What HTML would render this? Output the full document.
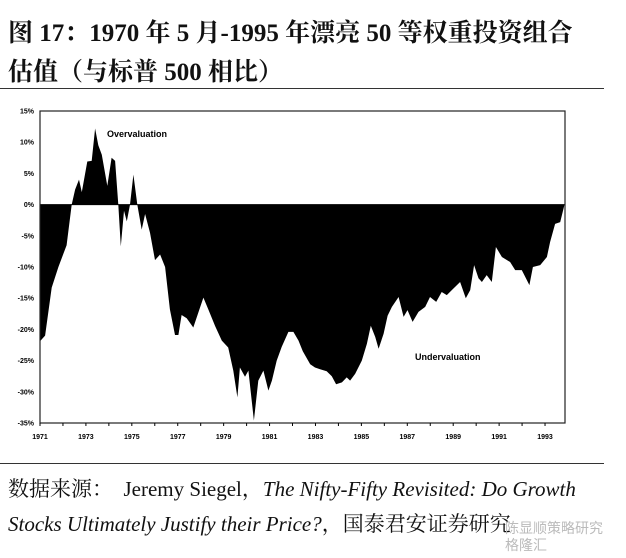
<!DOCTYPE html>
<html><head><meta charset="utf-8">
<style>
body{margin:0;background:#fff;width:626px;height:558px;overflow:hidden;position:relative;font-family:"Liberation Serif","Noto Serif CJK SC",serif}
.t{position:absolute;left:8px;font-weight:bold;font-size:25px;color:#111;white-space:nowrap}
.s{position:absolute;left:8px;font-size:21px;color:#111;white-space:nowrap}
.hr{position:absolute;left:0;width:604px;height:1px;background:#333}
</style></head><body>
<div class="t" style="top:13px">图 17：1970 年 5 月-1995 年漂亮 50 等权重投资组合</div>
<div class="t" style="top:52px">估值（与标普 500 相比）</div>
<div class="hr" style="top:88px"></div>
<svg id="chart" width="626" height="558" style="position:absolute;left:0;top:0"></svg>
<div class="hr" style="top:463px"></div>
<div class="s" style="top:473px">数据来源：&nbsp; Jeremy Siegel，<i>The Nifty-Fifty Revisited: Do Growth</i></div>
<div class="s" style="top:508px"><i>Stocks Ultimately Justify their Price?</i>，国泰君安证券研究</div>
<div style="position:absolute;left:505px;top:520px;font-size:14px;line-height:17px;color:#bbb;font-family:'Liberation Sans','Noto Sans CJK SC',sans-serif">陈显顺策略研究<br>格隆汇</div>
<script>
const years=[1971.0,1971.22,1971.51,1971.8,1972.16,1972.38,1972.53,1972.7,1972.82,1973.06,1973.25,1973.4,1973.54,1973.69,1973.93,1974.12,1974.27,1974.41,1974.52,1974.66,1974.78,1974.92,1975.07,1975.24,1975.43,1975.58,1975.79,1976.01,1976.23,1976.45,1976.66,1976.88,1977.03,1977.17,1977.39,1977.68,1977.97,1978.12,1978.33,1978.63,1978.92,1979.2,1979.42,1979.6,1979.71,1979.93,1980.08,1980.32,1980.51,1980.73,1980.95,1981.1,1981.31,1981.53,1981.82,1982.04,1982.26,1982.45,1982.77,1982.98,1983.2,1983.49,1983.71,1983.9,1984.15,1984.36,1984.51,1984.73,1985.02,1985.24,1985.41,1985.6,1985.75,1985.97,1986.14,1986.33,1986.62,1986.84,1987.01,1987.23,1987.49,1987.78,1987.99,1988.26,1988.5,1988.72,1988.94,1989.3,1989.55,1989.74,1989.91,1990.1,1990.25,1990.46,1990.68,1990.86,1991.12,1991.48,1991.7,1991.99,1992.32,1992.47,1992.79,1993.08,1993.22,1993.44,1993.66,1993.85];
const values=[-21.9,-21,-13.3,-10,-6.5,0,2.4,4,2,6.9,7,12.2,9.5,8,3,7.5,7,0,-6.7,-1,-2.7,0,4.8,0,-4,-1.5,-4.5,-8.9,-8,-10,-16.8,-20.9,-20.9,-17.7,-18.2,-19.7,-16.5,-14.9,-16.8,-19.5,-21.8,-22.9,-26.6,-30.9,-26.1,-27.6,-26.6,-34.6,-28.2,-26.6,-29.8,-28.2,-25,-22.8,-20.4,-20.4,-21.8,-23.5,-25.6,-26.1,-26.4,-26.7,-27.5,-28.8,-28.5,-27.7,-28.2,-27.1,-25,-22.3,-19.4,-21.2,-23.1,-20.7,-17.8,-16.4,-14.8,-18,-16.9,-18.8,-17.2,-16.4,-14.8,-15.6,-14,-14.5,-13.7,-12.4,-15,-13.7,-9.7,-11.8,-12.4,-11.3,-12.4,-6.8,-8.4,-9.2,-10.5,-10.5,-12.9,-10,-9.7,-8.4,-6,-3.1,-2.8,0];
const yTicks=[15,10,5,0,-5,-10,-15,-20,-25,-30,-35];
const xTickLabels=[1971,1973,1975,1977,1979,1981,1983,1985,1987,1989,1991,1993];
const X0=40,X1=565,Y0=111,Y1=423,YMIN=1971,YMAX=1993.87;
const sx=y=>X0+(y-YMIN)/(YMAX-YMIN)*(X1-X0);
const sy=v=>Y0+(15-v)/50*(Y1-Y0);
const svg=document.getElementById('chart');const NS='http://www.w3.org/2000/svg';
function mk(t,a){const e=document.createElementNS(NS,t);for(const k in a)e.setAttribute(k,a[k]);svg.appendChild(e);return e;}
let d='M'+sx(years[0])+','+sy(0);
years.forEach((y,i)=>{d+=' L'+sx(y).toFixed(1)+','+sy(values[i]).toFixed(1);});
d+=' L'+sx(years[years.length-1])+','+sy(0)+' Z';
const area=mk('path',{d:d,fill:'#000'});


const zl=mk('line',{x1:X0,x2:X1,y1:sy(0),y2:sy(0),stroke:'#000','stroke-width':1});


const fr=mk('rect',{x:X0,y:Y0,width:X1-X0,height:Y1-Y0,fill:'none',stroke:'#222','stroke-width':1.2});


yTicks.forEach(v=>{const t=mk('text',{x:X0-6,y:sy(v)+2.5,'text-anchor':'end','font-size':7,'font-weight':'bold','font-family':'Liberation Sans,sans-serif'});t.textContent=v+'%';

});
for(let y=1971;y<=1993;y++){const l=mk('line',{x1:sx(y),x2:sx(y),y1:Y1,y2:Y1+3,stroke:'#000'});

}
xTickLabels.forEach(y=>{const t=mk('text',{x:sx(y),y:Y1+16,'text-anchor':'middle','font-size':7,'font-weight':'bold','font-family':'Liberation Sans,sans-serif'});t.textContent=y;

});
const o=mk('text',{x:107,y:137,'font-size':9,'font-weight':'bold','font-family':'Liberation Sans,sans-serif'});o.textContent='Overvaluation';


const u=mk('text',{x:415,y:360,'font-size':9,'font-weight':'bold','font-family':'Liberation Sans,sans-serif'});u.textContent='Undervaluation';


</script>
</body></html>
